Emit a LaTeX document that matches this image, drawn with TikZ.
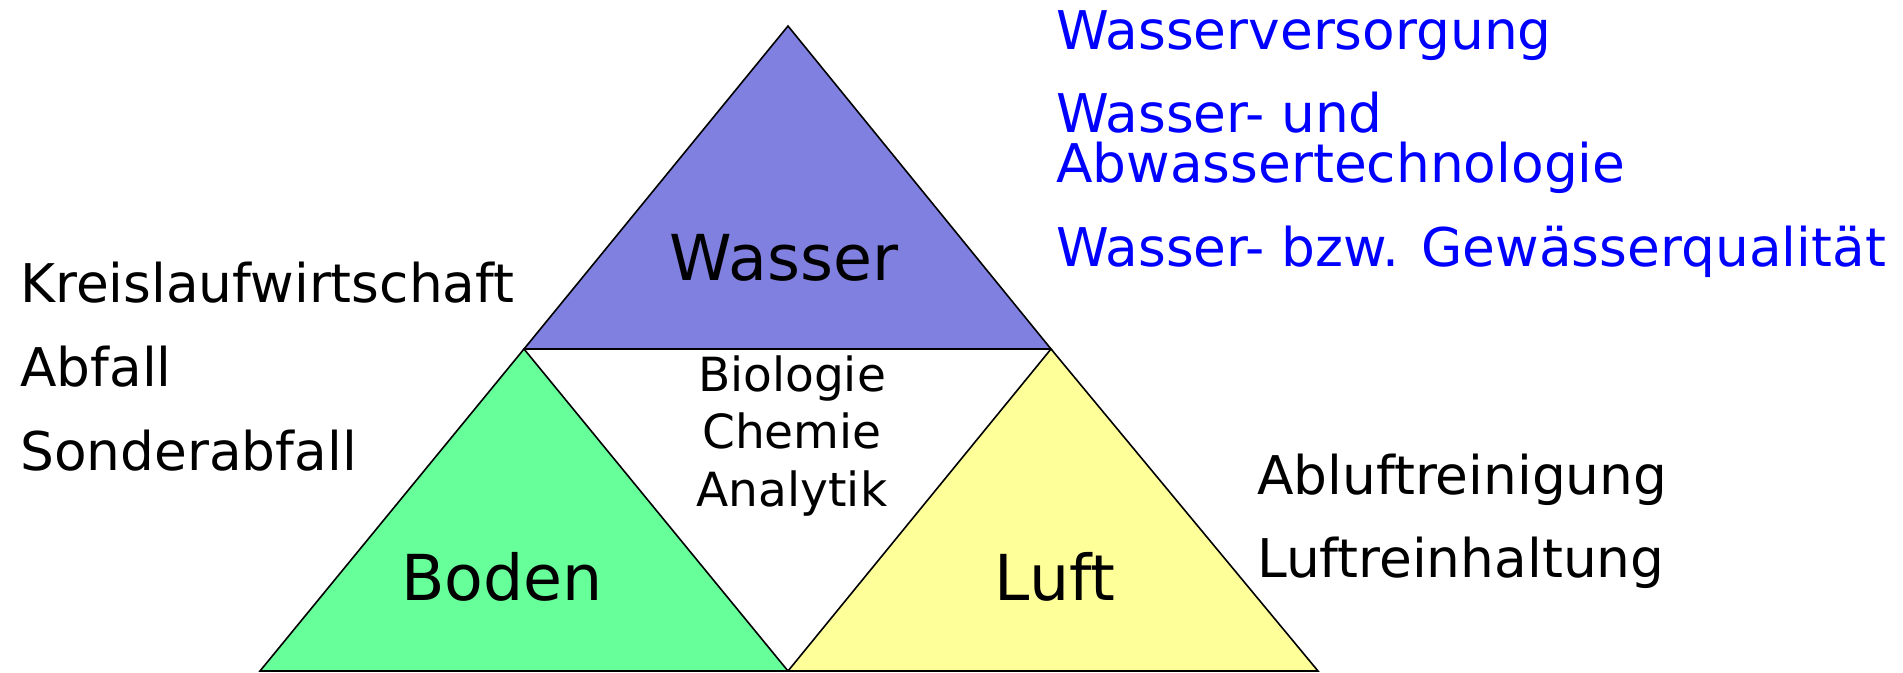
\documentclass[tikz,border=0pt]{standalone}
\usepackage{fontspec}
\setmainfont{DejaVu Sans}
\definecolor{wasserfill}{RGB}{128,128,224}
\definecolor{bodenfill}{RGB}{102,255,153}
\definecolor{luftfill}{RGB}{255,255,153}
\definecolor{bluetext}{RGB}{0,0,255}
\begin{document}
\begin{tikzpicture}[x=0.75pt,y=-0.75pt,
  tri/.style={draw=black,line width=1.2pt,line join=miter},
  big/.style={inner sep=0pt,anchor=base,font=\fontsize{47.5}{56}\selectfont},
  side/.style={inner sep=0pt,anchor=base west,font=\fontsize{40}{48}\selectfont},
  mid/.style={inner sep=0pt,anchor=base,font=\fontsize{35.3}{42}\selectfont},
  blue/.style={side,text=bluetext}]
\useasboundingbox (0,0) rectangle (1903,673);
\coordinate (A) at (788,26);
\coordinate (ML) at (524,349);
\coordinate (MR) at (1051,349);
\coordinate (BL) at (260,671);
\coordinate (BM) at (788,671);
\coordinate (BR) at (1318,671);
\fill[white] (ML) -- (MR) -- (BM) -- cycle;
\filldraw[tri,fill=wasserfill] (A) -- (MR) -- (ML) -- cycle;
\filldraw[tri,fill=bodenfill] (ML) -- (BM) -- (BL) -- cycle;
\filldraw[tri,fill=luftfill] (MR) -- (BR) -- (BM) -- cycle;
\node[big] (wasser) at (784,281) {Wasser};
\node[big] (boden) at (502,600) {Boden};
\node[big] (luft) at (1055,600) {Luft};
\node[mid] (bio) at (792,392) {Biologie};
\node[mid] (chem) at (792,449) {Chemie};
\node[mid] (ana) at (792,506) {Analytik};
\node[side] (k1) at (20,303) {Kreislaufwirtschaft};
\node[side] (k2) at (20,387) {Abfall};
\node[side] (k3) at (20,470) {Sonderabfall};
\node[side] (l1) at (1257,494) {Abluftreinigung};
\node[side] (l2) at (1257,577) {Luftreinhaltung};
\node[blue] (w1) at (1056,50) {Wasserversorgung};
\node[blue] (w2) at (1056,133) {Wasser- und};
\node[blue] (w3) at (1056,183) {Abwassertechnologie};
\node[blue] (w4) at (1056,267) {Wasser- bzw. Gewässerqualität};
\end{tikzpicture}
\end{document}
